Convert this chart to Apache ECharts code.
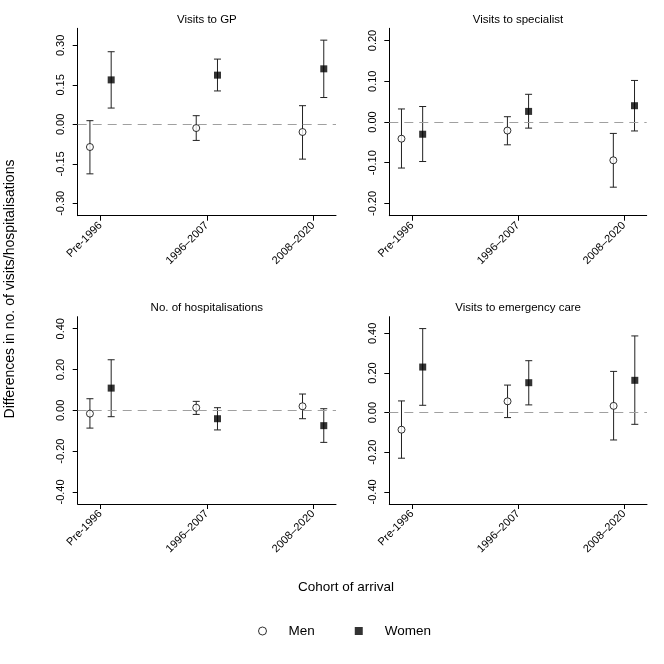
<!DOCTYPE html>
<html>
<head>
<meta charset="utf-8">
<script src="https://cdn.jsdelivr.net/npm/echarts@6/dist/echarts.min.js"></script>
<style>
  html, body { margin: 0; padding: 0; background: #fff; }
  #chart { width: 664px; height: 664px; }
</style>
</head>
<body>
<div id="chart"></div>
<script>
// cohorts on the x axis
const cohorts = ['Pre-1996', '1996–2007', '2008–2020'];

// Visits to GP
const gpMen = [-0.086, -0.014, -0.029];
const gpMenLo = [-0.188, -0.061, -0.132];
const gpMenHi = [0.014, 0.033, 0.071];
const gpWomen = [0.169, 0.187, 0.211];
const gpWomenLo = [0.062, 0.127, 0.102];
const gpWomenHi = [0.276, 0.248, 0.320];
const gpTicks = [-0.30, -0.15, 0, 0.15, 0.30];

// Visits to specialist
const specMen = [-0.041, -0.021, -0.094];
const specMenLo = [-0.113, -0.056, -0.160];
const specMenHi = [0.032, 0.013, -0.028];
const specWomen = [-0.030, 0.026, 0.040];
const specWomenLo = [-0.097, -0.015, -0.022];
const specWomenHi = [0.038, 0.068, 0.102];
const specTicks = [-0.20, -0.10, 0, 0.10, 0.20];

// No. of hospitalisations
const hospMen = [-0.016, 0.013, 0.020];
const hospMenLo = [-0.087, -0.020, -0.041];
const hospMenHi = [0.057, 0.044, 0.080];
const hospWomen = [0.109, -0.041, -0.075];
const hospWomenLo = [-0.031, -0.096, -0.157];
const hospWomenHi = [0.248, 0.013, 0.008];
const hospTicks = [-0.40, -0.20, 0, 0.20, 0.40];

// Visits to emergency care
const emMen = [-0.086, 0.057, 0.034];
const emMenLo = [-0.230, -0.025, -0.138];
const emMenHi = [0.059, 0.139, 0.208];
const emWomen = [0.230, 0.151, 0.163];
const emWomenLo = [0.037, 0.039, -0.059];
const emWomenHi = [0.424, 0.262, 0.387];
const emTicks = [-0.40, -0.20, 0, 0.20, 0.40];

const panels = [
  { title: 'Visits to GP', men: [gpMen, gpMenLo, gpMenHi], women: [gpWomen, gpWomenLo, gpWomenHi], ticks: gpTicks,
    ymin: -0.347, ymax: 0.365, left: 77.7, top: 28.3, width: 258.3, height: 187.4 },
  { title: 'Visits to specialist', men: [specMen, specMenLo, specMenHi], women: [specWomen, specWomenLo, specWomenHi], ticks: specTicks,
    ymin: -0.230, ymax: 0.230, left: 389.3, top: 28.3, width: 257.4, height: 187.4 },
  { title: 'No. of hospitalisations', men: [hospMen, hospMenLo, hospMenHi], women: [hospWomen, hospWomenLo, hospWomenHi], ticks: hospTicks,
    ymin: -0.459, ymax: 0.459, left: 77.7, top: 316.7, width: 258.3, height: 187.3 },
  { title: 'Visits to emergency care', men: [emMen, emMenLo, emMenHi], women: [emWomen, emWomenLo, emWomenHi], ticks: emTicks,
    ymin: -0.461, ymax: 0.484, left: 389.3, top: 316.7, width: 257.7, height: 187.3 }
];

const dodge = 0.1;
const font = 'Liberation Sans, Arial, sans-serif';

function errorBar(params, api) {
  const x = api.value(0);
  const top = api.coord([x, api.value(2)]);
  const bot = api.coord([x, api.value(1)]);
  const cap = 3.5;
  const st = { stroke: '#222', lineWidth: 1 };
  return {
    type: 'group',
    children: [
      { type: 'line', shape: { x1: top[0], y1: top[1], x2: bot[0], y2: bot[1] }, style: st },
      { type: 'line', shape: { x1: top[0] - cap, y1: top[1], x2: top[0] + cap, y2: top[1] }, style: st },
      { type: 'line', shape: { x1: bot[0] - cap, y1: bot[1], x2: bot[0] + cap, y2: bot[1] }, style: st }
    ]
  };
}

const grid = [], xAxis = [], yAxis = [], title = [], series = [];

panels.forEach(function (p, i) {
  grid.push({ left: p.left, top: p.top, width: p.width, height: p.height, containLabel: false });
  title.push({
    text: p.title, left: p.left + p.width / 2, top: p.top - 14.5, textAlign: 'center', padding: 0,
    textStyle: { fontFamily: font, fontSize: 11.5, fontWeight: 'normal', color: '#000' }
  });
  xAxis.push({
    type: 'value', gridIndex: i, min: 0.785, max: 3.215,
    splitLine: { show: false },
    axisLine: { show: true, onZero: false, lineStyle: { color: '#000', width: 1 } },
    axisTick: { show: true, length: 5, customValues: [1, 2, 3], lineStyle: { color: '#000' } },
    axisLabel: {
      customValues: [1, 2, 3], rotate: 45, margin: 8,
      fontFamily: font, fontSize: 11, color: '#000',
      formatter: function (v) { return cohorts[Math.round(v) - 1]; }
    }
  });
  yAxis.push({
    type: 'value', gridIndex: i, min: p.ymin, max: p.ymax,
    splitLine: { show: false },
    axisLine: { show: true, onZero: false, lineStyle: { color: '#000', width: 1 } },
    axisTick: { show: true, length: 5, customValues: p.ticks, lineStyle: { color: '#000' } },
    axisLabel: {
      customValues: p.ticks, rotate: 90, margin: 11,
      fontFamily: font, fontSize: 11, color: '#000',
      formatter: function (v) { return Math.abs(v) < 1e-9 ? '0.00' : v.toFixed(2); }
    }
  });

  const menBars = cohorts.map(function (c, k) { return [k + 1 - dodge, p.men[1][k], p.men[2][k]]; });
  const womenBars = cohorts.map(function (c, k) { return [k + 1 + dodge, p.women[1][k], p.women[2][k]]; });
  const menPts = cohorts.map(function (c, k) { return [k + 1 - dodge, p.men[0][k]]; });
  const womenPts = cohorts.map(function (c, k) { return [k + 1 + dodge, p.women[0][k]]; });

  series.push({
    type: 'custom', xAxisIndex: i, yAxisIndex: i, renderItem: errorBar, data: menBars, silent: true, z: 2,
    markLine: {
      silent: true, symbol: 'none', label: { show: false },
      lineStyle: { color: '#a0a0a0', type: [9, 6], width: 1 },
      data: [{ yAxis: 0 }]
    }
  });
  series.push({ type: 'custom', xAxisIndex: i, yAxisIndex: i, renderItem: errorBar, data: womenBars, silent: true, z: 2 });
  series.push({
    name: 'Men', type: 'scatter', xAxisIndex: i, yAxisIndex: i, data: menPts,
    symbol: 'circle', symbolSize: 7, z: 3,
    itemStyle: { color: '#fff', borderColor: '#000', borderWidth: 1 }
  });
  series.push({
    name: 'Women', type: 'scatter', xAxisIndex: i, yAxisIndex: i, data: womenPts,
    symbol: 'rect', symbolSize: 7, z: 3,
    itemStyle: { color: '#000' }
  });
});

const chart = echarts.init(document.getElementById('chart'), null, { renderer: 'canvas' });
chart.setOption({
  animation: false,
  backgroundColor: '#fff',
  title: title,
  grid: grid,
  xAxis: xAxis,
  yAxis: yAxis,
  series: series,
  legend: {
    data: ['Men', 'Women'], left: 253, top: 619, itemWidth: 8, itemHeight: 8, itemGap: 40,
    selectedMode: false,
    itemStyle: { borderWidth: 1 },
    textStyle: { fontFamily: font, fontSize: 13.5, color: '#000', padding: [0, 0, 0, 17] }
  },
  graphic: [
    {
      type: 'text', left: 348 - 50, top: 580,
      style: { text: 'Cohort of arrival', fontFamily: font, fontSize: 13.5, fill: '#000' }
    },
    {
      type: 'text', x: 3.5, y: 289, rotation: Math.PI / 2,
      style: { text: 'Differences in no. of visits/hospitalisations', fontFamily: font, fontSize: 14, fill: '#000',
        align: 'center', verticalAlign: 'top' }
    }
  ]
});
</script>
</body>
</html>
